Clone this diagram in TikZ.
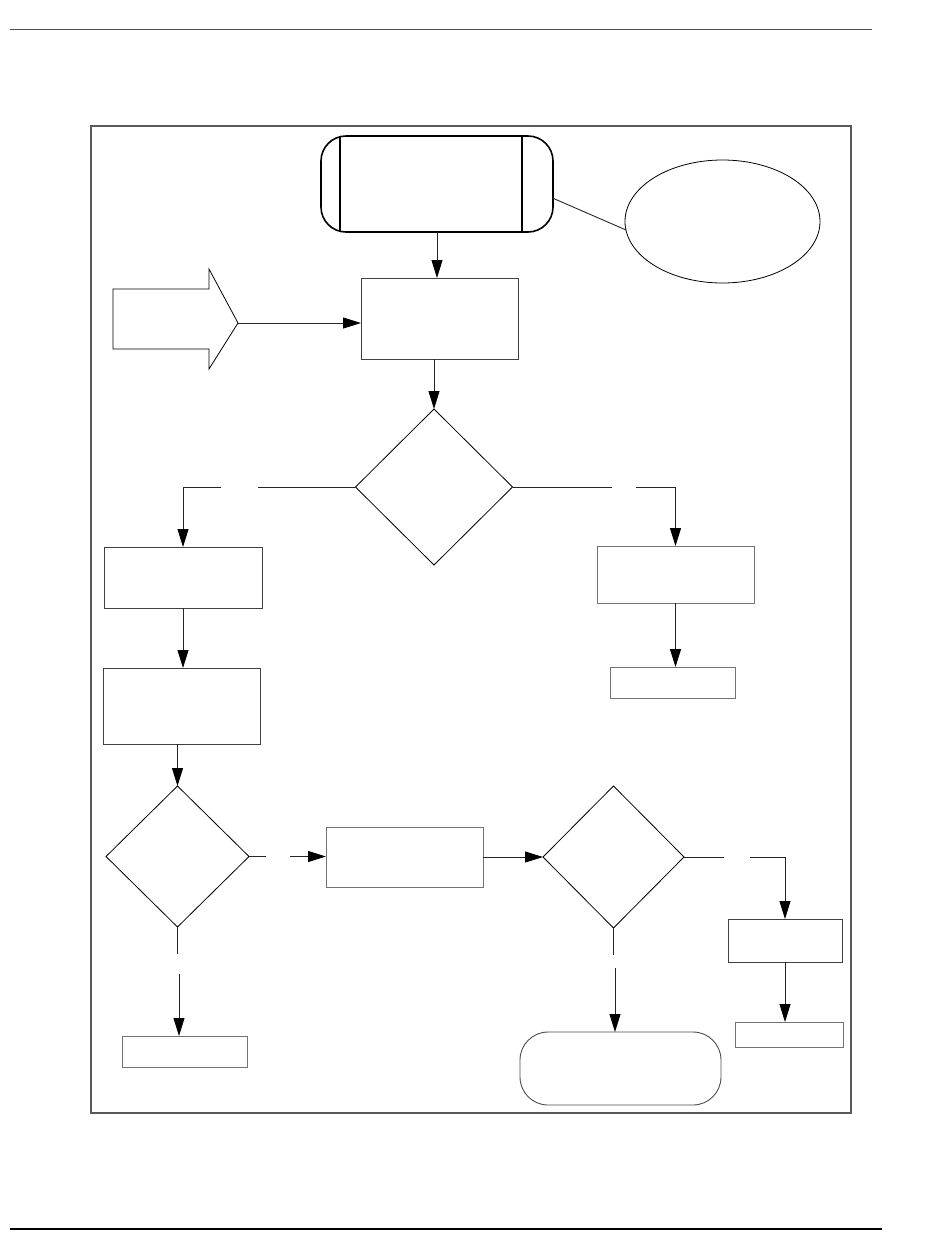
\documentclass[tikz,border=0pt]{standalone}
\usetikzlibrary{arrows.meta,shapes.geometric}
\begin{document}
\begin{tikzpicture}[x=1pt,y=-1pt,
  every node/.style={inner sep=0pt,outer sep=0pt},
  proc/.style={draw=black!75,line width=0.9pt,rectangle,minimum width=#1},
  dec/.style={draw=black,line width=0.8pt,diamond},
  conn/.style={draw=black!85,line width=0.9pt},
  arr/.style={conn,-{Triangle[length=18pt,width=11pt,color=black]}},
  term/.style={draw=black,rectangle,rounded corners=#1}
]
\useasboundingbox (0,0) rectangle (950,1254);
% page rules and frame
\draw[black!70,line width=1pt] (10,29) -- (872,29);
\draw[black,line width=1.2pt] (10,1229) -- (882,1229);
\draw[black!65,line width=1.2pt] (91,126) rectangle (851,1113);

% nodes
\node[term=25pt,line width=1.6pt,minimum width=232pt,minimum height=96pt] (start) at (437,184) {};
\draw[line width=1.6pt] (340,137) -- (340,231);
\draw[line width=1.6pt] (522,137) -- (522,231);
\node[draw=black,line width=0.8pt,ellipse,minimum width=195pt,minimum height=123pt] (ell) at (722.5,221.5) {};

\node[proc=157pt,minimum height=81pt] (box1) at (439.5,318.5) {};
\node[dec,minimum width=157pt,minimum height=156pt] (d1) at (434,487) {};
\node[proc=158pt,minimum height=61pt] (box2) at (183,577.5) {};
\node[proc=157pt,minimum height=76pt] (box3) at (181.5,706) {};
\node[dec,minimum width=143pt,minimum height=141pt] (d2) at (177.5,856.5) {};
\node[proc=157pt,minimum height=60pt,draw=black!55] (box4) at (404.5,857) {};
\node[dec,minimum width=141pt,minimum height=142pt] (d3) at (613.5,857) {};
\node[proc=125pt,minimum height=31pt,draw=black!55] (box5) at (184.5,1051.5) {};
\node[proc=114pt,minimum height=43pt] (box6) at (785,940.5) {};
\node[proc=108pt,minimum height=25pt,draw=black!55] (box7) at (789,1034.5) {};
\node[proc=157pt,minimum height=57pt,draw=black!55] (box8) at (675.5,574.5) {};
\node[proc=125pt,minimum height=31pt,draw=black!55] (box9) at (672.5,682.5) {};
\node[term=28pt,draw=black!70,line width=0.9pt,minimum width=201pt,minimum height=73pt] (end) at (620.5,1068.5) {};

% block arrow
\draw[line width=0.8pt,line join=miter] (113,289) -- (209,289) -- (209,269) -- (238,323) -- (209,369) -- (209,349) -- (113,349) -- cycle;
\coordinate (bigtip) at (238,323);

% gap coordinates
\coordinate (g1a) at (258,487);
\coordinate (g1b) at (221,487);
\coordinate (g2a) at (612,487);
\coordinate (g2b) at (636,487);
\coordinate (g3a) at (266,856.5);
\coordinate (g3b) at (290,856.5);
\coordinate (g4a) at (724,857);
\coordinate (g4b) at (750,857);
\coordinate (g5a) at (613.5,955);
\coordinate (g5b) at (615,968);
\coordinate (g6a) at (177.5,954);
\coordinate (g6b) at (179,974);

% connectors
\draw[conn] (start.-7) -- (ell.185);
\draw[arr] (start.south) -- (start.south |- box1.north);
\draw[arr] (bigtip) -- (bigtip -| box1.west);
\draw[arr] (box1.south -| d1.north) -- (d1.north);
\draw[conn] (d1.west) -- (g1a);
\draw[arr] (g1b) -| (box2.north);
\draw[conn] (d1.east) -- (g2a);
\draw[arr] (g2b) -| (box8.north);
\draw[arr] (box8.south) -- (box8.south |- box9.north);
\draw[arr] (box2.south) -- (box2.south |- box3.north);
\draw[arr] (box3.south -| d2.north) -- (d2.north);
\draw[conn] (d2.east) -- (g3a);
\draw[arr] (g3b) -- (g3b -| box4.west);
\draw[arr] (box4.east) -- (box4.east -| d3.west);
\draw[conn] (d3.east) -- (g4a);
\draw[arr] (g4b) -| (box6.north);
\draw[arr] (box6.south) -- (box6.south |- box7.north);
\draw[conn] (d3.south) -- (g5a);
\draw[arr] (g5b) -- (g5b |- end.north);
\draw[conn] (d2.south) -- (g6a);
\draw[arr] (g6b) -- (g6b |- box5.north);
\end{tikzpicture}
\end{document}
